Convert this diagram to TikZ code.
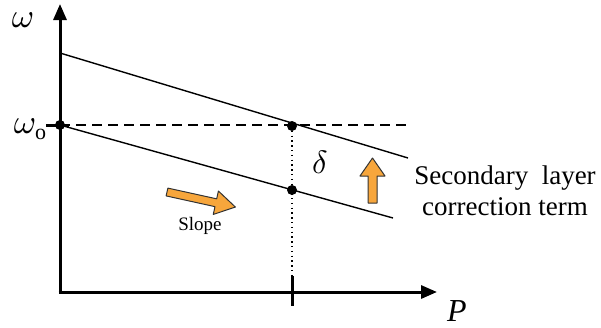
\documentclass[tikz,border=0pt]{standalone}
\usepackage{fontspec}
\setmainfont{Liberation Serif}
\usetikzlibrary{arrows.meta}
\definecolor{arroworange}{RGB}{247,166,60}
\begin{document}
\begin{tikzpicture}[x=1pt,y=-1pt,
  axis/.style={line width=3pt,-{Triangle[length=16pt,width=13pt]}},
  thinline/.style={line width=1.4pt},
  dashline/.style={line width=1.2pt,dash pattern=on 10pt off 6pt},
  dotline/.style={line width=1.3pt,dash pattern=on 1.3pt off 3.5pt},
  dotnode/.style={circle,fill=black,inner sep=0pt,minimum size=10pt},
  tickline/.style={line width=3pt},
  bigarrow/.style={fill=arroworange,draw=black!80,line width=1pt,line join=round},
  lbl/.style={inner sep=0pt},
  greek/.style={inner sep=0pt,font=\fontsize{10}{10}\selectfont,scale=3.4}]
\useasboundingbox (0,0) rectangle (601,327);
% coordinates
\coordinate (O) at (60,292);
\coordinate (Ytop) at (60,4);
\coordinate (Xend) at (437,292);
\coordinate (U1) at (60,53);
\coordinate (U2) at (408,158);
\coordinate (L2) at (393,218);
\coordinate (D2) at (412,125);
\coordinate (T1) at (46,125);
\coordinate (T2) at (69,125);
\coordinate (XT1) at (292,276);
\coordinate (XT2) at (292,306);
% lines
\draw[thinline] (U1) -- (U2);
\node[dotnode] (w0) at (60,125) {};
\node[dotnode] (pu) at (292,126) {};
\node[dotnode] (pl) at (292,190) {};
\draw[thinline] (w0.center) -- (L2);
\draw[dashline] (w0.center) -- (D2);
\draw[dotline] (pu.center) -- (XT1);
\draw[tickline] (XT1) -- (XT2);
\draw[tickline] (T1) -- (T2);
\draw[axis] (O) -- (Ytop);
\draw[axis] ([xshift=-1.5pt]O) -- (Xend);
% labels
\node[greek] (wl) at (23,20) {$\omega$};
\node[greek,anchor=east] (w0l) at (37,126) {$\omega$};
\node[lbl,font=\fontsize{22}{22}\selectfont,anchor=west] (w0s) at (35,134) {o};
\node[lbl,font=\fontsize{32}{32}\selectfont\itshape] (Pl) at (457,311) {P};
\node[greek,scale=0.95] (dl) at (320,162) {$\delta$};
\node[lbl,font=\fontsize{27}{31}\selectfont,align=center] (sec) at (505,191) {Secondary\ \ layer\\correction term};
\node[lbl,font=\fontsize{19}{19}\selectfont] (sl) at (200,226) {Slope};
% orange arrows
\draw[bigarrow] (368,203) -- (368,176) -- (360,176) -- (372.5,158) -- (385,176) -- (377,176) -- (377,203) -- cycle;
\begin{scope}[shift={(167,192)},rotate=-12.4]
\draw[bigarrow] (0,-4) -- (50,-4) -- (50,-12) -- (70,0) -- (50,12) -- (50,4) -- (0,4) -- cycle;
\end{scope}
\end{tikzpicture}
\end{document}
